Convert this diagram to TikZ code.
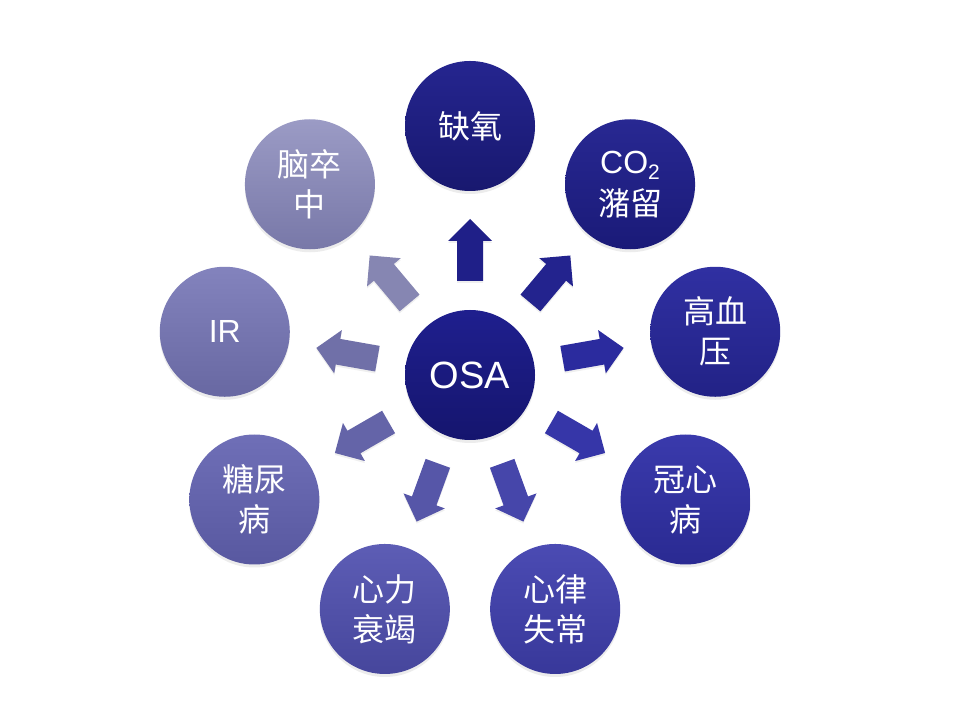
\documentclass[tikz,border=0pt]{standalone}
\usepackage{fontspec}
\setmainfont{Liberation Sans}
\newfontfamily\cjk{Noto Sans CJK SC}
\usetikzlibrary{shadows}
\definecolor{osaT}{HTML}{1F1F8E}\definecolor{osaB}{HTML}{15156E}
\definecolor{c1T}{HTML}{25258F}\definecolor{c1B}{HTML}{18186F}
\definecolor{c2T}{HTML}{282892}\definecolor{c2B}{HTML}{1A1A78}
\definecolor{c3T}{HTML}{3030A2}\definecolor{c3B}{HTML}{222286}
\definecolor{c4T}{HTML}{3A3AAC}\definecolor{c4B}{HTML}{2A2A92}
\definecolor{c5T}{HTML}{4B4BB3}\definecolor{c5B}{HTML}{38389A}
\definecolor{c6T}{HTML}{5D5DB5}\definecolor{c6B}{HTML}{46469C}
\definecolor{c7T}{HTML}{6F6FB7}\definecolor{c7B}{HTML}{5858A0}
\definecolor{c8T}{HTML}{8383BD}\definecolor{c8B}{HTML}{6868A2}
\definecolor{c9T}{HTML}{9B9BC5}\definecolor{c9B}{HTML}{7878A8}
\definecolor{a1}{HTML}{1F1F88}\definecolor{a2}{HTML}{23238E}
\definecolor{a3}{HTML}{2B2B9E}\definecolor{a4}{HTML}{3636A8}
\definecolor{a5}{HTML}{4646AA}\definecolor{a6}{HTML}{5656A8}
\definecolor{a7}{HTML}{6464A8}\definecolor{a8}{HTML}{7070A8}
\definecolor{a9}{HTML}{8686B2}
\begin{document}
\begin{tikzpicture}[x=1pt,y=1pt,
  bub/.style={circle, minimum size=130pt, inner sep=0pt, text=white, align=center,
    font=\cjk\fontsize{32}{40}\selectfont,
    drop shadow={opacity=0.15, shadow xshift=0pt, shadow yshift=-3pt}},
  blk/.style={drop shadow={opacity=0.12, shadow xshift=0pt, shadow yshift=-2pt}}]
\useasboundingbox[fill=white] (0,0) rectangle (960,720);
\node[bub, top color=osaT, bottom color=osaB, font=\fontsize{38}{44}\selectfont] (osa) at (470,345) {OSA};
\begin{scope}[shift={(osa.center)}]
\node[bub, top color=c1T, bottom color=c1B] (n1) at (90:249) {缺氧};
\node[bub, top color=c2T, bottom color=c2B] (n2) at (50:249) {{\fontspec{Liberation Sans}CO\raisebox{-0.2em}{\fontsize{21}{21}\selectfont 2}}\\[2pt]潴留};
\node[bub, top color=c3T, bottom color=c3B] (n3) at (10:249) {高血\\压};
\node[bub, top color=c4T, bottom color=c4B] (n4) at (-30:249) {冠心\\病};
\node[bub, top color=c5T, bottom color=c5B] (n5) at (-70:249) {心律\\失常};
\node[bub, top color=c6T, bottom color=c6B] (n6) at (-110:249) {心力\\衰竭};
\node[bub, top color=c7T, bottom color=c7B] (n7) at (-150:249) {糖尿\\病};
\node[bub, top color=c8T, bottom color=c8B, font=\fontsize{32}{40}\selectfont] (n8) at (170:249) {IR};
\node[bub, top color=c9T, bottom color=c9B] (n9) at (130:249) {脑卒\\中};
\end{scope}
\foreach \a/\c in {90/a1,50/a2,10/a3,-30/a4,-70/a5,-110/a6,-150/a7,170/a8,130/a9}{
  \fill[\c, blk, shift={(osa.center)}, rotate=\a]
    (94,-13) -- (134,-13) -- (134,-22) -- (156,0) -- (134,22) -- (134,13) -- (94,13) -- cycle;
}
\end{tikzpicture}
\end{document}
